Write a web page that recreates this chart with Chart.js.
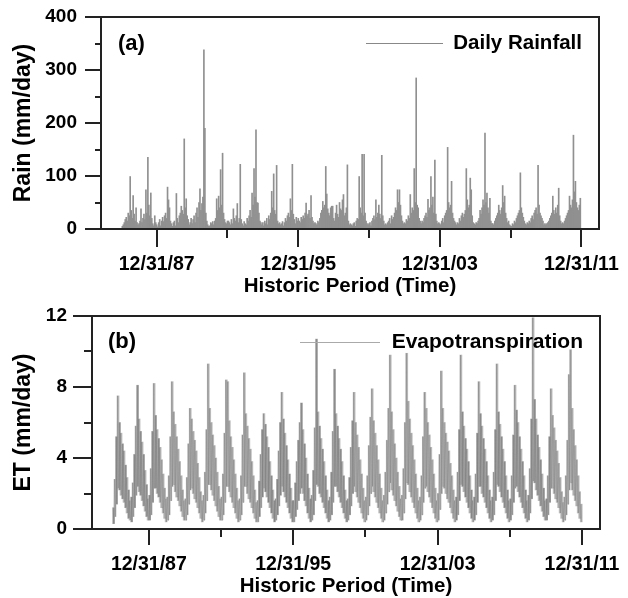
<!DOCTYPE html>
<html>
<head>
<meta charset="utf-8">
<script src="https://cdn.jsdelivr.net/npm/chart.js@4.4.1/dist/chart.umd.min.js"></script>
<style>
  body { margin: 0; background: #fff; }
  .panel { position: absolute; left: 0; }
</style>
</head>
<body>
<div class="panel" style="top:0"><canvas id="rainChart" width="628" height="300"></canvas></div>
<div class="panel" style="top:300px"><canvas id="etChart" width="628" height="298"></canvas></div>
<script>
// 時間軸（10進の年）
const xMin = 1984.85;
const xMax = 2013.0;
const xTickValues = [1988, 1996, 2004, 2012];
const xTickLabels = ["12/31/87", "12/31/95", "12/31/03", "12/31/11"];
const xMinorValues = [1992, 2000, 2008];

// 日降水量：1986年から、1年を18区間に分けた各区間の最大値 (mm/day)
const rainStart = 1986;
const rainStepsPerYear = 18;
const rainValues = [
  0, 5, 8, 12, 18, 22, 15, 30, 25, 99, 35, 20, 63, 28, 15, 40, 12, 8,         // 1986
  10, 15, 38, 12, 20, 28, 18, 74, 30, 135, 45, 25, 68, 20, 10, 6, 25, 12,     // 1987
  8, 4, 12, 18, 6, 15, 22, 14, 25, 30, 20, 79, 55, 40, 15, 10, 5, 12,         // 1988
  15, 6, 67, 20, 12, 25, 30, 43, 35, 28, 170, 40, 57, 25, 18, 8, 12, 20,      // 1989
  10, 18, 25, 12, 30, 40, 22, 50, 76, 35, 48, 60, 338, 190, 30, 15, 8, 5,     // 1990
  6, 12, 10, 14, 8, 15, 20, 57, 35, 62, 40, 112, 45, 143, 30, 18, 12, 10,     // 1991
  15, 15, 12, 8, 18, 10, 38, 20, 15, 25, 48, 12, 20, 122, 18, 10, 6, 14,      // 1992
  10, 8, 20, 15, 25, 35, 22, 68, 45, 114, 60, 187, 50, 49, 30, 15, 12, 8,     // 1993
  12, 6, 15, 10, 20, 8, 25, 18, 30, 71, 40, 104, 35, 28, 120, 15, 10, 12,     // 1994
  8, 10, 14, 6, 12, 20, 15, 25, 30, 22, 57, 35, 122, 28, 18, 10, 22, 15,      // 1995
  20, 15, 12, 22, 18, 25, 20, 30, 49, 25, 28, 35, 20, 63, 22, 15, 10, 12,     // 1996
  10, 8, 15, 12, 20, 30, 35, 52, 40, 45, 118, 66, 38, 30, 25, 40, 43, 43,     // 1997
  20, 15, 30, 45, 28, 22, 50, 38, 35, 55, 65, 25, 30, 40, 121, 15, 8, 10,     // 1998
  8, 6, 10, 12, 5, 15, 20, 18, 99, 40, 30, 141, 25, 141, 30, 15, 10, 8,       // 1999
  10, 12, 6, 15, 20, 25, 18, 55, 22, 30, 45, 28, 20, 139, 25, 15, 8, 10,      // 2000
  8, 12, 15, 20, 10, 25, 18, 22, 30, 40, 35, 74, 50, 74, 45, 25, 15, 10,      // 2001
  12, 10, 18, 15, 25, 20, 65, 30, 40, 35, 114, 50, 285, 45, 40, 20, 15, 10,   // 2002
  15, 12, 20, 25, 30, 22, 56, 35, 40, 99, 45, 60, 30, 130, 28, 15, 10, 12,    // 2003
  10, 8, 15, 20, 12, 25, 30, 35, 154, 50, 40, 45, 90, 30, 20, 15, 12, 8,      // 2004
  12, 10, 20, 15, 25, 30, 22, 28, 35, 114, 55, 40, 45, 96, 74, 25, 12, 10,    // 2005
  8, 12, 10, 15, 20, 35, 28, 40, 55, 45, 181, 50, 68, 40, 30, 58, 15, 10,     // 2006
  10, 8, 15, 20, 25, 30, 45, 35, 28, 40, 82, 50, 62, 30, 20, 12, 15, 8,       // 2007
  6, 5, 10, 8, 15, 12, 20, 25, 30, 35, 106, 40, 30, 22, 15, 10, 8, 12,        // 2008
  10, 15, 12, 20, 25, 18, 30, 35, 40, 28, 120, 45, 30, 25, 20, 15, 8, 10,     // 2009
  8, 10, 12, 15, 20, 25, 30, 62, 35, 28, 40, 30, 45, 77, 25, 15, 10, 12,      // 2010
  10, 15, 20, 25, 30, 35, 62, 45, 40, 55, 177, 70, 90, 50, 40, 35, 45, 58     // 2011
];

// 蒸発散量：1986年から月ごとの最大値・最小値 (mm/day)
const etStart = 1986;
const etStepsPerYear = 12;
const etHigh = [
  1.2, 2.8, 5.2, 7.5, 6.0, 5.4, 4.8, 4.4, 3.6, 2.9, 2.2, 1.6,    // 1986
  1.8, 2.6, 4.2, 5.8, 8.1, 6.2, 5.5, 4.9, 4.2, 3.3, 2.5, 1.7,    // 1987
  1.9, 3.4, 5.5, 8.2, 6.4, 5.6, 5.1, 4.6, 3.9, 3.1, 2.3, 1.7,    // 1988
  1.8, 3.0, 5.2, 8.3, 6.6, 5.9, 5.2, 4.5, 3.8, 3.0, 2.2, 1.6,    // 1989
  1.7, 2.9, 4.8, 6.8, 6.2, 5.5, 5.0, 4.4, 3.7, 2.9, 2.1, 1.6,    // 1990
  1.9, 3.2, 5.6, 9.3, 6.8, 6.0, 5.3, 4.7, 4.0, 3.2, 2.4, 1.7,    // 1991
  1.8, 3.1, 5.4, 8.4, 8.3, 6.1, 5.2, 4.6, 3.9, 3.1, 2.3, 1.6,    // 1992
  1.7, 3.0, 5.3, 8.8, 6.5, 5.8, 5.1, 4.5, 3.8, 3.0, 2.2, 1.5,    // 1993
  1.6, 2.7, 4.2, 5.6, 6.5, 5.9, 5.2, 4.6, 3.8, 3.0, 2.2, 1.6,    // 1994
  1.7, 2.8, 4.4, 6.0, 7.7, 6.2, 5.4, 4.7, 3.9, 3.1, 2.3, 1.6,    // 1995
  1.6, 2.6, 3.8, 5.0, 6.0, 7.1, 5.6, 4.8, 4.0, 3.1, 2.3, 1.7,    // 1996
  1.9, 3.3, 5.7, 10.7, 6.6, 5.8, 5.1, 4.5, 3.8, 3.0, 2.2, 1.6,   // 1997
  1.8, 3.2, 5.5, 9.0, 6.5, 5.8, 5.1, 4.5, 3.8, 3.0, 2.2, 1.6,    // 1998
  1.7, 2.9, 4.6, 6.1, 7.7, 6.0, 5.3, 4.6, 3.9, 3.1, 2.3, 1.6,    // 1999
  1.8, 3.0, 4.7, 6.3, 7.9, 6.1, 5.4, 4.7, 3.9, 3.1, 2.3, 1.6,    // 2000
  1.9, 3.2, 5.0, 6.8, 9.8, 6.6, 5.6, 4.8, 4.0, 3.2, 2.4, 1.7,    // 2001
  1.9, 3.4, 6.0, 9.9, 7.2, 6.2, 5.4, 4.7, 3.9, 3.1, 2.3, 1.6,    // 2002
  1.8, 3.0, 5.2, 7.7, 6.8, 6.0, 5.3, 4.6, 3.9, 3.1, 2.3, 1.6,    // 2003
  2.0, 4.2, 8.9, 6.8, 6.0, 5.4, 4.9, 4.4, 3.7, 3.0, 2.2, 1.6,    // 2004
  1.8, 3.2, 5.6, 9.8, 6.6, 5.8, 5.1, 4.5, 3.8, 3.0, 2.2, 1.6,    // 2005
  1.8, 3.1, 5.4, 8.3, 6.5, 5.8, 5.1, 4.5, 3.8, 3.0, 2.2, 1.6,    // 2006
  1.8, 3.2, 5.6, 9.3, 6.6, 5.9, 5.2, 4.5, 3.8, 3.0, 2.2, 1.6,    // 2007
  1.7, 3.0, 5.3, 8.1, 6.7, 6.0, 5.2, 4.5, 3.8, 3.0, 2.2, 1.6,    // 2008
  1.9, 3.4, 6.2, 11.9, 7.3, 6.2, 5.3, 4.6, 3.9, 3.1, 2.3, 1.6,   // 2009
  1.7, 3.0, 5.2, 7.9, 6.4, 5.7, 5.0, 4.4, 3.7, 2.9, 2.1, 1.5,    // 2010
  1.8, 3.0, 5.0, 8.7, 10.1, 6.8, 5.6, 4.7, 3.9, 3.0, 2.1, 1.4    // 2011
];
const etLow = [
  0.3, 0.7, 1.4, 2.3, 2.2, 1.9, 1.7, 1.5, 1.2, 0.9, 0.6, 0.5,    // 1986
  0.4, 0.7, 1.2, 1.9, 2.4, 2.1, 1.9, 1.6, 1.3, 1.0, 0.7, 0.5,    // 1987
  0.5, 0.8, 1.5, 2.3, 2.3, 2.0, 1.8, 1.5, 1.2, 0.9, 0.6, 0.4,    // 1988
  0.5, 0.8, 1.6, 2.4, 2.5, 2.1, 1.8, 1.6, 1.3, 1.0, 0.7, 0.5,    // 1989
  0.5, 0.8, 1.4, 2.2, 2.3, 2.0, 1.7, 1.5, 1.2, 0.9, 0.6, 0.4,    // 1990
  0.5, 0.9, 1.6, 2.5, 2.5, 2.2, 1.9, 1.6, 1.3, 1.0, 0.7, 0.5,    // 1991
  0.5, 0.8, 1.5, 2.4, 2.4, 2.1, 1.8, 1.5, 1.2, 0.9, 0.6, 0.4,    // 1992
  0.5, 0.8, 1.5, 2.4, 2.4, 2.0, 1.7, 1.5, 1.2, 0.9, 0.6, 0.4,    // 1993
  0.4, 0.7, 1.2, 1.8, 2.3, 2.1, 1.8, 1.5, 1.2, 0.9, 0.6, 0.4,    // 1994
  0.5, 0.8, 1.3, 1.9, 2.4, 2.1, 1.8, 1.5, 1.2, 0.9, 0.6, 0.4,    // 1995
  0.4, 0.7, 1.1, 1.6, 2.0, 2.3, 2.0, 1.6, 1.3, 0.9, 0.6, 0.4,    // 1996
  0.5, 0.8, 1.6, 2.5, 2.4, 2.0, 1.8, 1.5, 1.2, 0.9, 0.6, 0.4,    // 1997
  0.5, 0.8, 1.5, 2.4, 2.4, 2.1, 1.8, 1.5, 1.2, 0.9, 0.6, 0.4,    // 1998
  0.5, 0.8, 1.3, 2.0, 2.4, 2.1, 1.8, 1.5, 1.2, 0.9, 0.6, 0.4,    // 1999
  0.5, 0.8, 1.3, 2.0, 2.4, 2.1, 1.8, 1.5, 1.2, 0.9, 0.6, 0.4,    // 2000
  0.5, 0.9, 1.4, 2.1, 2.6, 2.2, 1.9, 1.6, 1.3, 1.0, 0.7, 0.5,    // 2001
  0.5, 0.9, 1.7, 2.6, 2.5, 2.1, 1.8, 1.5, 1.2, 0.9, 0.6, 0.4,    // 2002
  0.5, 0.8, 1.5, 2.3, 2.4, 2.1, 1.8, 1.5, 1.2, 0.9, 0.6, 0.4,    // 2003
  0.5, 1.1, 2.0, 2.4, 2.3, 2.0, 1.7, 1.5, 1.2, 0.9, 0.6, 0.4,    // 2004
  0.5, 0.8, 1.6, 2.5, 2.4, 2.1, 1.8, 1.5, 1.2, 0.9, 0.6, 0.4,    // 2005
  0.5, 0.8, 1.5, 2.4, 2.4, 2.0, 1.8, 1.5, 1.2, 0.9, 0.6, 0.4,    // 2006
  0.5, 0.8, 1.6, 2.5, 2.4, 2.1, 1.8, 1.5, 1.2, 0.9, 0.6, 0.4,    // 2007
  0.5, 0.8, 1.5, 2.3, 2.4, 2.1, 1.8, 1.5, 1.2, 0.9, 0.6, 0.4,    // 2008
  0.5, 0.9, 1.7, 2.7, 2.6, 2.2, 1.9, 1.6, 1.3, 1.0, 0.7, 0.5,    // 2009
  0.5, 0.8, 1.5, 2.3, 2.3, 2.0, 1.7, 1.5, 1.2, 0.9, 0.6, 0.4,    // 2010
  0.5, 0.8, 1.4, 2.2, 2.6, 2.2, 1.9, 1.6, 1.3, 0.9, 0.6, 0.4     // 2011
];

Chart.defaults.font.family = '"Liberation Sans", Arial, sans-serif';
Chart.defaults.color = "#000";

// 枠線・目盛り線・パネル記号・凡例を描くプラグイン
const framePlugin = {
  id: "frame",
  afterDraw(chart, args, opts) {
    const { ctx, chartArea, scales } = chart;
    const { left, right, top, bottom } = chartArea;
    const x = scales.x;
    const y = scales.y;

    ctx.save();
    ctx.strokeStyle = "#222";
    ctx.lineWidth = 2;
    ctx.lineCap = "butt";
    ctx.strokeRect(left, top, right - left, bottom - top);

    const line = (x1, y1, x2, y2) => {
      ctx.beginPath();
      ctx.moveTo(x1, y1);
      ctx.lineTo(x2, y2);
      ctx.stroke();
    };
    opts.xMajor.forEach((v) => {
      const px = Math.round(x.getPixelForValue(v));
      line(px, bottom, px, bottom + opts.xMajorLen);
    });
    opts.xMinor.forEach((v) => {
      const px = Math.round(x.getPixelForValue(v));
      line(px, bottom, px, bottom + opts.xMinorLen);
    });
    opts.yMajor.forEach((v) => {
      const py = Math.round(y.getPixelForValue(v));
      line(left - opts.yMajorLen, py, left, py);
    });
    opts.yMinor.forEach((v) => {
      const py = Math.round(y.getPixelForValue(v));
      line(left - opts.yMinorLen, py, left, py);
    });

    // パネル記号 (a)/(b)
    ctx.fillStyle = "#000";
    ctx.textBaseline = "middle";
    ctx.textAlign = "left";
    ctx.font = 'bold 22px "Liberation Sans", Arial, sans-serif';
    ctx.fillText(opts.label, left + opts.labelDx, top + opts.labelDy);

    // 凡例
    ctx.strokeStyle = opts.legendColor;
    ctx.lineWidth = 1;
    const ly = top + opts.legendDy + 0.5;
    line(right - opts.legendLineStart, ly, right - opts.legendLineEnd, ly);
    ctx.font = "bold " + opts.legendSize + 'px "Liberation Sans", Arial, sans-serif';
    ctx.textAlign = "right";
    ctx.fillText(opts.legendText, right - 17, top + opts.legendDy);
    ctx.restore();
  },
};

function tickLabel(value) {
  const idx = xTickValues.indexOf(value);
  return idx >= 0 ? xTickLabels[idx] : "";
}

function makeXScale(height, titlePadBottom) {
  return {
    type: "linear",
    min: xMin,
    max: xMax,
    offset: false,
    afterBuildTicks: (scale) => {
      scale.ticks = xTickValues.map((v) => ({ value: v }));
    },
    afterFit: (scale) => {
      scale.height = height;
      scale.paddingLeft = 0;
      scale.paddingRight = 0;
    },
    grid: { display: false, drawTicks: false, offset: false },
    border: { display: false },
    ticks: {
      callback: (v) => tickLabel(v),
      padding: 24,
      maxRotation: 0,
      autoSkip: false,
      font: { size: 19.5, weight: "bold" },
    },
    title: {
      display: true,
      text: "Historic Period (Time)",
      font: { size: 20.5, weight: "bold", lineHeight: 1 },
      padding: { top: 0, bottom: titlePadBottom },
    },
  };
}

function makeYScale(max, step, width, pad, title) {
  return {
    min: 0,
    max: max,
    afterBuildTicks: (scale) => {
      const ticks = [];
      for (let v = 0; v <= max; v += step) ticks.push({ value: v });
      scale.ticks = ticks;
    },
    afterFit: (scale) => {
      scale.width = width;
      scale.paddingTop = 0;
      scale.paddingBottom = 0;
    },
    grid: { display: false, drawTicks: false },
    border: { display: false },
    ticks: { padding: pad, font: { size: 19, weight: "bold" } },
    title: {
      display: true,
      text: title,
      font: { size: 23, weight: "bold", lineHeight: 1 },
      padding: { top: 12.5, bottom: 0 },
    },
  };
}

// (a) 日降水量
const rainPoints = rainValues.map((v, i) => ({ x: rainStart + i / rainStepsPerYear, y: v }));
new Chart(document.getElementById("rainChart"), {
  type: "bar",
  data: {
    datasets: [{
      label: "Daily Rainfall",
      data: rainPoints,
      backgroundColor: "#909090",
      barThickness: 1,
      grouped: false,
    }],
  },
  options: {
    responsive: false,
    animation: false,
    layout: { padding: { top: 17, right: 29, left: 0, bottom: 0 } },
    scales: {
      x: makeXScale(71, 3),
      y: makeYScale(400, 100, 101, 24, "Rain (mm/day)"),
    },
    plugins: {
      legend: { display: false },
      tooltip: { enabled: false },
      frame: {
        xMajor: xTickValues, xMinor: xMinorValues, xMajorLen: 18, xMinorLen: 9,
        yMajor: [0, 100, 200, 300, 400], yMinor: [50, 150, 250, 350], yMajorLen: 16, yMinorLen: 6,
        label: "(a)", labelDx: 17, labelDy: 27,
        legendText: "Daily Rainfall", legendColor: "#888", legendSize: 20.5,
        legendLineStart: 233, legendLineEnd: 156, legendDy: 26,
      },
    },
  },
  plugins: [framePlugin],
});

// (b) 蒸発散量：月ごとの幅（棒）と、最大・最小を結ぶ細線
const etPoints = etHigh.map((v, i) => ({ x: etStart + (i + 0.5) / etStepsPerYear, y: [etLow[i], v] }));
const etTrace = [];
etHigh.forEach((v, i) => {
  etTrace.push({ x: etStart + (i + 0.25) / etStepsPerYear, y: v });
  etTrace.push({ x: etStart + (i + 0.75) / etStepsPerYear, y: etLow[i] });
});
new Chart(document.getElementById("etChart"), {
  type: "bar",
  data: {
    datasets: [{
      label: "Evapotranspiration",
      data: etPoints,
      backgroundColor: "#b9b9b9",
      barThickness: 2,
      grouped: false,
      order: 2,
    }, {
      type: "line",
      label: "trace",
      data: etTrace,
      borderColor: "rgba(80,80,80,0.35)",
      borderWidth: 0.6,
      pointRadius: 0,
      tension: 0,
      order: 1,
    }],
  },
  options: {
    responsive: false,
    animation: false,
    layout: { padding: { top: 16, right: 28, left: 0, bottom: 0 } },
    scales: {
      x: makeXScale(69, 1),
      y: makeYScale(12, 4, 92, 25, "ET (mm/day)"),
    },
    plugins: {
      legend: { display: false },
      tooltip: { enabled: false },
      frame: {
        xMajor: xTickValues, xMinor: xMinorValues, xMajorLen: 16, xMinorLen: 8,
        yMajor: [0, 4, 8, 12], yMinor: [2, 6, 10], yMajorLen: 19, yMinorLen: 8,
        label: "(b)", labelDx: 16, labelDy: 26,
        legendText: "Evapotranspiration", legendColor: "#aaa", legendSize: 21,
        legendLineStart: 300, legendLineEnd: 220, legendDy: 26,
      },
    },
  },
  plugins: [framePlugin],
});
</script>
</body>
</html>
